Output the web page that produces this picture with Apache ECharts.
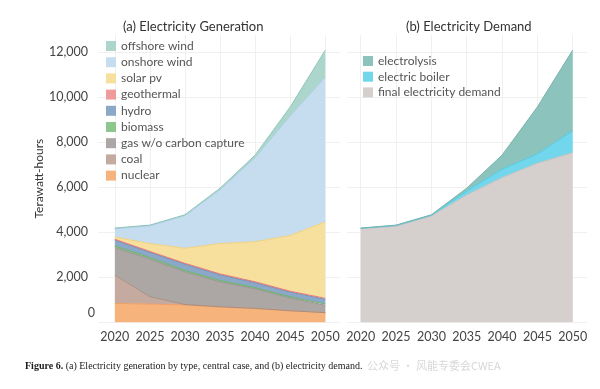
<!DOCTYPE html>
<html><head><meta charset="utf-8">
<script src="https://cdn.jsdelivr.net/npm/echarts@6/dist/echarts.min.js"></script>
<style>html,body{margin:0;padding:0;background:#fff}#c{width:600px;height:389px}</style>
</head><body><div id="c"></div>
<script>
// ---- data (Terawatt-hours) ----
const years = [2020, 2025, 2030, 2035, 2040, 2045, 2050];
const yTicks = [0, 2000, 4000, 6000, 8000, 10000, 12000];
// (a) generation
const nuclear    = [840, 810, 770, 680, 610, 510, 430];
const coal       = [1260, 330, 20, 10, 10, 5, 0];
const gas        = [1220, 1670, 1450, 1110, 870, 565, 330];
const biomass    = [70, 70, 60, 60, 50, 50, 50];
const hydro      = [260, 230, 280, 250, 220, 210, 215];
const geothermal = [40, 40, 40, 40, 40, 40, 40];
const solarPv    = [100, 350, 670, 1350, 1780, 2480, 3400];
const onshore    = [370, 790, 1450, 2390, 3730, 5310, 6430];
const offshore   = [30, 30, 40, 70, 120, 400, 1200];
// (b) demand
const finalDemand   = [4160, 4270, 4720, 5660, 6430, 7070, 7540];
const electricBoiler= [20, 30, 40, 175, 370, 410, 975];
const electrolysis  = [10, 20, 20, 125, 630, 2090, 3585];

const FONT = 'Lato';
const genSeries = [
  ['nuclear', nuclear, '#f6b37c', '#f0a062'],
  ['coal', coal, '#c4aa9f', '#a88e82'],
  ['gas w/o carbon capture', gas, '#aca7a5', '#9a9492'],
  ['biomass', biomass, '#8ec78c', '#6cb36a'],
  ['hydro', hydro, '#8ba8c9', '#7093bb'],
  ['geothermal', geothermal, '#ef9b9b', '#e57a7a'],
  ['solar pv', solarPv, '#f7df9d', '#f1d27f'],
  ['onshore wind', onshore, '#c6ddef', '#b0cfe7'],
  ['offshore wind', offshore, '#acd6cc', '#8fc6bb']
];
const demSeries = [
  ['final electricity demand', finalDemand, '#d5d0ce', '#c8c2bf'],
  ['electric boiler', electricBoiler, '#72d7ec', '#52cbe4'],
  ['electrolysis', electrolysis, '#8cc3bd', '#78b3ad']
];
function mk(list, gi, stack) {
  return list.map(([name, arr, fill, line]) => ({
    name, type: 'line', stack, xAxisIndex: gi, yAxisIndex: gi,
    // value first so that it is the stacked dimension
    data: years.map((y, i) => [arr[i], y]),
    encode: { x: 1, y: 0 },
    symbol: 'none', smooth: false,
    lineStyle: { width: 1, color: line },
    itemStyle: { color: fill },
    areaStyle: { color: fill, opacity: 1 },
    emphasis: { disabled: true }, silent: true
  }));
}
const xAx = (gi, min, max) => ({
  type: 'value', gridIndex: gi, min, max,
  axisLine: { show: false }, axisTick: { show: false, customValues: years },
  axisLabel: { customValues: years, color: '#444', fontFamily: FONT, fontSize: 12.5, margin: 8,
    formatter: v => String(v) },
  splitLine: { show: true, lineStyle: { color: '#f0f0f0', width: 1 } }
});
const yAx = (gi, showLabel) => ({
  type: 'value', gridIndex: gi, min: 0, max: 12770, interval: 2000,
  axisLine: { show: false }, axisTick: { show: false },
  name: showLabel ? 'Terawatt-hours' : '', nameLocation: 'middle', nameGap: 41,
  nameTextStyle: { color: '#333', fontFamily: FONT, fontSize: 12 },
  axisLabel: { show: showLabel, showMaxLabel: false, margin: 3, color: '#444', fontFamily: FONT, fontSize: 12.5,
    formatter: v => v === 0 ? '{z|0}' : '{n|' + v.toLocaleString('en-US') + '}',
    rich: {
      z: { color: '#444', fontFamily: FONT, fontSize: 12.5, padding: [0, 0, 18, 0] },
      n: { color: '#444', fontFamily: FONT, fontSize: 12.5, padding: [0, 7, 0, 0] }
    } },
  splitLine: { show: true, showMaxLine: false, lineStyle: { color: '#f0f0f0', width: 1 } }
});
const legendText = { color: '#555', fontFamily: FONT, fontSize: 12, lineHeight: 12 };
const chart = echarts.init(document.getElementById('c'), null, { renderer: 'canvas' });
chart.setOption({
  animation: false,
  backgroundColor: '#fff',
  title: [
    { text: '(a) Electricity Generation', left: 118, top: 15,
      textStyle: { color: '#333', fontFamily: FONT, fontSize: 13, fontWeight: 'normal' } },
    { text: '(b) Electricity Demand', left: 401, top: 15,
      textStyle: { color: '#333', fontFamily: FONT, fontSize: 13, fontWeight: 'normal' } },
    { text: '{b|Figure 6.} (a) Electricity generation by type, central case, and (b) electricity demand.', left: 20, top: 356,
      textStyle: { color: '#1a1a1a', fontFamily: 'Liberation Serif', fontSize: 10, fontWeight: 'normal',
        rich: { b: { fontWeight: 'bold', fontFamily: 'Liberation Serif', fontSize: 10, color: '#1a1a1a' } } } },
    { text: '公众号 · 风能专委会CWEA', left: 362, top: 355,
      textStyle: { color: '#d8d8d8', fontFamily: 'Noto Sans CJK SC', fontSize: 11, fontWeight: 'normal' } }
  ],
  grid: [
    { left: 98, top: 35, width: 242, height: 287.3 },
    { left: 347, top: 35, width: 240, height: 287.3 }
  ],
  xAxis: [xAx(0, 2017.6, 2052.1), xAx(1, 2018.06, 2052.02)],
  yAxis: [yAx(0, true), yAx(1, false)],
  legend: [
    { left: 106, top: 40, orient: 'vertical', icon: 'rect', itemWidth: 10, itemHeight: 10, itemGap: 4.2,
      selectedMode: false, textStyle: legendText, padding: 0,
      data: genSeries.map(s => ({ name: s[0], itemStyle: { color: s[2] } })).reverse() },
    { left: 363, top: 55, orient: 'vertical', icon: 'rect', itemWidth: 10, itemHeight: 10, itemGap: 3.7,
      selectedMode: false, textStyle: legendText, padding: 0,
      data: demSeries.map(s => ({ name: s[0], itemStyle: { color: s[2] } })).reverse() }
  ],
  series: [...mk(genSeries, 0, 'gen'), ...mk(demSeries, 1, 'dem')]
});
</script></body></html>
